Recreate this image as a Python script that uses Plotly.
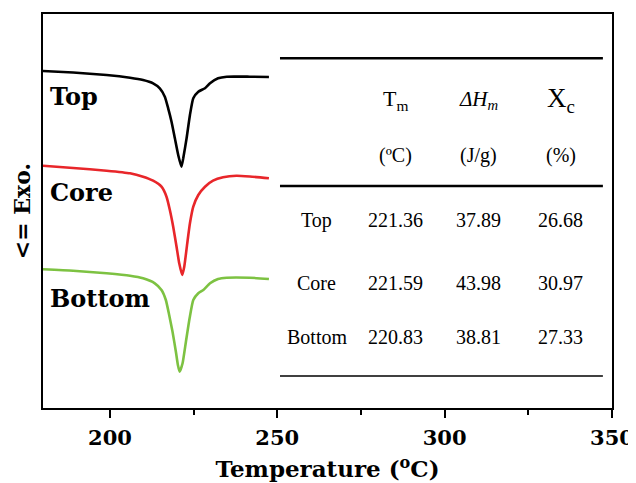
import plotly.graph_objects as go

# DSC curves (temperature in °C, heat flow in arbitrary units, exo up)
T_top = [180, 189, 199, 206, 209.9, 212.9, 214.9, 216.4, 217.4, 218.4, 219.4, 220.4, 221.36,
         221.9, 222.9, 223.9, 224.9, 226.4, 228.4, 229.9, 232.3, 234.9, 241.8, 247.5]
H_top = [337, 335.5, 333, 330.3, 328, 324.7, 319.7, 311.3, 299.7, 286.3, 269.7, 253, 241.3,
         249.7, 269.7, 293, 309.7, 316.3, 319.7, 324.7, 329.7, 331.3, 331.3, 331]

T_core = [180, 189, 199, 206, 209.9, 212.9, 215.4, 216.9, 217.9, 218.9, 219.9, 220.7, 221.59,
          222.2, 223.1, 223.9, 224.9, 226.4, 228.4, 230.8, 233.8, 237.8, 241.8, 247.5]
H_core = [242.3, 240, 237.3, 234.7, 231.3, 227.3, 221.3, 211.3, 198, 181.3, 161.3, 144.7, 133,
          141.3, 164.7, 184.7, 201.3, 213, 221.3, 227.3, 230.7, 232.3, 231.5, 229.7]

T_bot = [180, 189, 199, 206, 209.9, 213.4, 215.4, 216.7, 217.7, 218.7, 219.7, 220.3, 220.83,
         221.7, 222.7, 223.8, 224.9, 226.4, 227.9, 229.9, 232.3, 234.9, 241.8, 247.5]
H_bot = [138.7, 137.3, 134.7, 132.3, 129.7, 124.7, 118, 108, 93, 76.3, 56.3, 43, 36.3,
         44.7, 66.3, 89.7, 108, 114.7, 118, 124.7, 129, 130.3, 130.3, 129]

curve_names = ["Top", "Core", "Bottom"]
curve_colors = ["#000000", "#e8262a", "#7dc242"]

# Table
row_labels = ["Top", "Core", "Bottom"]
tm_vals = ["221.36", "221.59", "220.83"]
dh_vals = ["37.89", "43.98", "38.81"]
xc_vals = ["26.68", "30.97", "27.33"]

fig = go.Figure()
for T, H, name, col in zip([T_top, T_core, T_bot], [H_top, H_core, H_bot], curve_names, curve_colors):
    fig.add_trace(go.Scatter(x=T, y=H, mode="lines", name=name,
                             line=dict(color=col, width=2.6, shape="spline", smoothing=0.5),
                             showlegend=False))

bold = dict(family="DejaVu Serif", size=24, color="black")
label_pos = [(0.008, 0.790), (0.008, 0.548), (0.008, 0.278)]
for name, (lx, ly) in zip(curve_names, label_pos):
    fig.add_annotation(x=lx, y=ly, xref="paper", yref="paper", text="<b>%s</b>" % name,
                       showarrow=False, xanchor="left", yanchor="middle", font=bold)

tfont = dict(family="Liberation Serif", size=20, color="black")
col_x = [0.4815, 0.620, 0.7645, 0.910]
row_y = [0.477, 0.317, 0.180]
head_y = 0.782
unit_y = 0.642


def txt(x, y, t, font):
    fig.add_annotation(x=x, y=y, xref="paper", yref="paper", text=t, showarrow=False,
                       xanchor="center", yanchor="middle", font=font)


txt(col_x[1], head_y, "T<sub>m</sub>", dict(family="Liberation Serif", size=22, color="black"))
txt(col_x[2], head_y, "<i>ΔH<sub>m</sub></i>", dict(family="Liberation Serif", size=21, color="black"))
txt(col_x[3], head_y, "X<sub>c</sub>", dict(family="Liberation Serif", size=27, color="black"))
for cx, u in zip(col_x[1:], ["(ºC)", "(J/g)", "(%)"]):
    txt(cx, unit_y, u, tfont)
for ry, lab, a, b, c in zip(row_y, row_labels, tm_vals, dh_vals, xc_vals):
    for cx, t in zip(col_x, [lab, a, b, c]):
        txt(cx, ry, t, tfont)

for yy, w in [(0.888, 2.5), (0.5635, 2.5), (0.0812, 1.3)]:
    fig.add_shape(type="line", xref="paper", yref="paper", x0=0.4165, x1=0.984, y0=yy, y1=yy,
                  line=dict(color="black", width=w))

# page body adds an 8px offset, so the figure is sized to fit the 636x483 window
fig.update_layout(
    width=628, height=475,
    margin=dict(l=35, r=24, t=6, b=75),
    plot_bgcolor="white", paper_bgcolor="white",
    xaxis=dict(range=[180, 350], dtick=50, tick0=200, ticks="outside", ticklen=8, tickwidth=2,
               tickcolor="black", showline=True, linecolor="black", linewidth=2, mirror=True,
               showgrid=False, zeroline=False, automargin=False, ticklabeloverflow="allow",
               ticklabelstandoff=2,
               minor=dict(dtick=25, tick0=200, ticks="outside", ticklen=5, tickwidth=2, tickcolor="black"),
               tickfont=dict(family="DejaVu Serif", size=21, color="black"),
               tickprefix="<b>", ticksuffix="</b>",
               title=dict(text="<b>Temperature (<sup>o</sup>C)</b>", standoff=12,
                          font=dict(family="DejaVu Serif", size=23, color="black"))),
    yaxis=dict(range=[0, 394], showticklabels=False, ticks="", showline=True, linecolor="black",
               linewidth=2, mirror=True, showgrid=False, zeroline=False, automargin=False,
               title=dict(text="<b><= Exo.</b>", standoff=4,
                          font=dict(family="DejaVu Serif", size=22, color="black"))),
)

fig.write_html("out.html")
